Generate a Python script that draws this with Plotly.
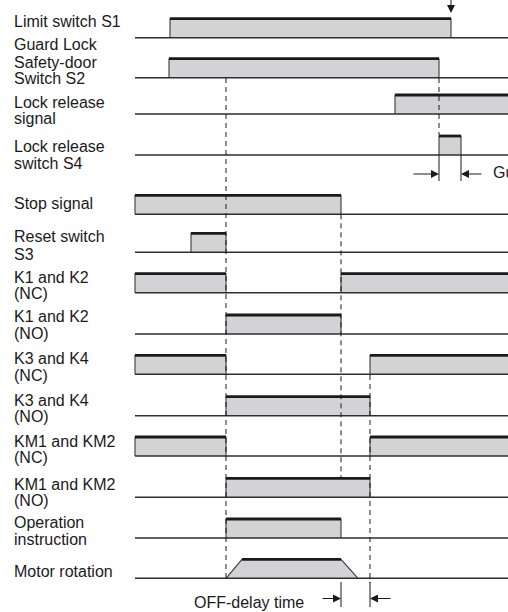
import plotly.graph_objects as go

# ---------------- data (time axis in arbitrary units) ----------------
T_START = 135          # left end of all time lines
T_END = 520            # beyond right edge (lines run off the page)

label_lines = [
    ["Limit switch S1"],
    ["Guard Lock", "Safety-door", "Switch S2"],
    ["Lock release", "signal"],
    ["Lock release", "switch S4"],
    ["Stop signal"],
    ["Reset switch", "S3"],
    ["K1 and K2", "(NC)"],
    ["K1 and K2", "(NO)"],
    ["K3 and K4", "(NC)"],
    ["K3 and K4", "(NO)"],
    ["KM1 and KM2", "(NC)"],
    ["KM1 and KM2", "(NO)"],
    ["Operation", "instruction"],
    ["Motor rotation"],
]

# ON intervals (start / end times) of each binary signal (rows 0..12)
on_starts = [[170], [169], [395], [439], [135], [191], [135, 341], [226],
             [135, 370], [226], [135, 370], [226], [226]]
on_ends = [[451], [439], [520], [461], [341], [226], [226, 520], [341],
           [226, 520], [370], [226, 520], [370], [341]]

# motor speed profile (row 13): time points and level (0 = stop, 1 = running)
motor_t = [226, 242, 341, 358]
motor_level = [0, 1, 1, 0]

# guide events
guide_times = [226, 439, 341, 370]
guard_lock_times = [439, 461]        # S4 pulse measured
off_delay_times = [341, 370]         # OFF-delay time
s1_marker_time = 451

# ---------------- layout constants ----------------
W, H = 508, 612
row_base = [37.7, 77.7, 114, 155, 214.3, 252.3, 292.7, 334, 374.3, 415.7,
            456, 497.3, 538, 578.3]
HIGH = 19
label_y = [[21.3], [44, 62, 78.5], [102.5, 118.5], [146, 163.5], [203.5],
           [236.5, 254], [277.5, 293.5], [316, 333.5], [358.5, 375],
           [400, 416], [441, 457.5], [484, 500], [522.5, 539], [571]]
guide_y = [(78, 578), (78, 135), (214.3, 478), (375, 583)]

FILL = "#d3d3d5"
EDGE = "#3a3a3a"
TOP = "#1a1a1a"
BASE = "#2e2e2e"
FONT = dict(family="Liberation Sans, Arial, sans-serif", size=16, color="#1a1a1a")

fig = go.Figure()

def line(xs, ys, color, width, dash=None):
    fig.add_trace(go.Scatter(x=xs, y=ys, mode="lines",
                             line=dict(color=color, width=width, dash=dash),
                             hoverinfo="skip", showlegend=False))

# binary signals
for i, (ss, es) in enumerate(zip(on_starts, on_ends)):
    b = row_base[i]
    t = b - HIGH
    for s, e in zip(ss, es):
        fig.add_trace(go.Scatter(x=[s, s, e, e], y=[b, t, t, b], mode="lines",
                                 fill="toself", fillcolor=FILL,
                                 line=dict(color=EDGE, width=1.1),
                                 hoverinfo="skip", showlegend=False))
    for s, e in zip(ss, es):
        line([s, e], [t, t], TOP, 2.8)
    line([T_START, T_END], [b, b], BASE, 1.6)

# motor rotation
b = row_base[13]
mys = [b - HIGH * lv for lv in motor_level]
fig.add_trace(go.Scatter(x=motor_t, y=mys, mode="lines", fill="toself",
                         fillcolor=FILL, line=dict(color=EDGE, width=1.1),
                         hoverinfo="skip", showlegend=False))
line(motor_t[1:3], mys[1:3], TOP, 2.8)
line([T_START, T_END], [b, b], BASE, 1.6)

# dashed guide lines
for tx, (y0, y1) in zip(guide_times, guide_y):
    line([tx, tx], [y0, y1], "#1a1a1a", 1, dash="5px,4px")

# dimension tick lines
for tx in guard_lock_times:
    line([tx, tx], [155, 181], "#1a1a1a", 1)
for tx in off_delay_times:
    line([tx, tx], [582, 607], "#1a1a1a", 1)

def arrow(x, y, ax, ay):
    fig.add_annotation(x=x, y=y, ax=ax, ay=ay, xref="x", yref="y",
                       axref="x", ayref="y", text="", showarrow=True,
                       arrowhead=2, arrowsize=1.6, arrowwidth=1,
                       arrowcolor="#1a1a1a", standoff=0, startstandoff=0)

arrow(guard_lock_times[0], 174, 412, 174)
arrow(guard_lock_times[1], 174, 483, 174)
arrow(off_delay_times[0], 598.5, 321, 598.5)
arrow(off_delay_times[1], 598.5, 392, 598.5)
arrow(s1_marker_time, 13, s1_marker_time, -2)

# labels
for lines_, ys in zip(label_lines, label_y):
    for txt, y in zip(lines_, ys):
        fig.add_annotation(x=11.5, y=y, xref="x", yref="y", text=txt,
                           showarrow=False, xanchor="left", yanchor="middle",
                           font=FONT)

fig.add_annotation(x=249, y=602, xref="x", yref="y", text="OFF-delay time",
                   showarrow=False, xanchor="center", yanchor="middle", font=FONT)
fig.add_annotation(x=490.5, y=172.5, xref="x", yref="y", text="Gu",
                   showarrow=False, xanchor="left", yanchor="middle", font=FONT)

fig.update_layout(
    width=W, height=H, margin=dict(l=0, r=0, t=0, b=0),
    paper_bgcolor="white", plot_bgcolor="white",
    xaxis=dict(range=[0, W], visible=False, fixedrange=True),
    yaxis=dict(range=[H, 0], visible=False, fixedrange=True),
)

fig.write_html("out.html", config={"displayModeBar": False, "staticPlot": True},
               post_script="document.body.style.margin='0';document.body.style.overflow='hidden';")
